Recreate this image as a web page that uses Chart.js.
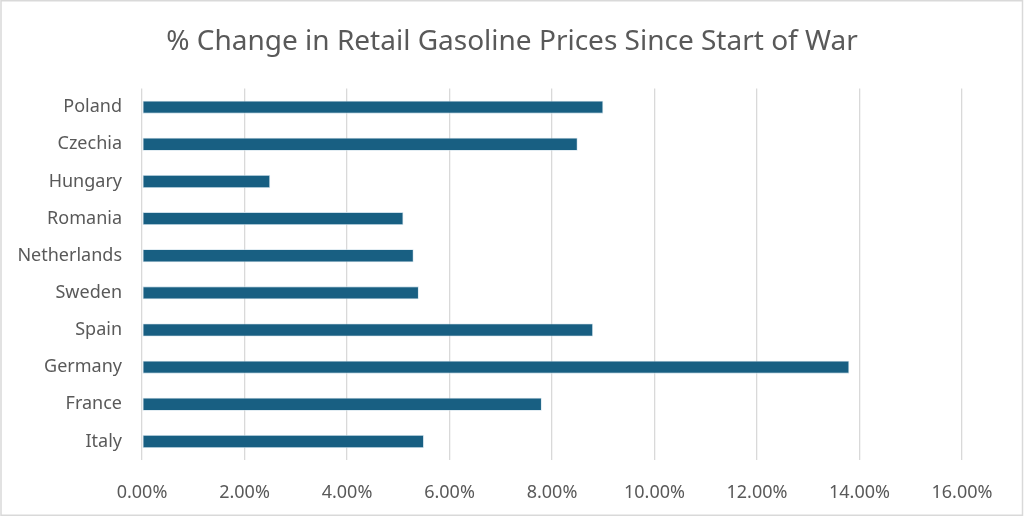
<!DOCTYPE html>
<html>
<head>
<meta charset="utf-8">
<script src="https://cdn.jsdelivr.net/npm/chart.js@4/dist/chart.umd.min.js"></script>
<style>
  html, body { margin: 0; padding: 0; background: #fff; }
  #wrap { width: 1024px; height: 517px; }
</style>
</head>
<body>
<div id="wrap"><canvas id="gasChart" width="1024" height="517"></canvas></div>
<script>
// valores (% de variação)
const countries = ['Poland', 'Czechia', 'Hungary', 'Romania', 'Netherlands', 'Sweden', 'Spain', 'Germany', 'France', 'Italy'];
const pctChange = [9.0, 8.5, 2.5, 5.1, 5.3, 5.4, 8.8, 13.8, 7.8, 5.5];
const xTicks = [0, 2, 4, 6, 8, 10, 12, 14, 16];

const textGray = '#595959';
const fontFamily = '"Noto Sans", "Open Sans", sans-serif';

// fundo branco e moldura cinza
const frame = {
    id: 'frame',
    beforeDraw: function(chart) {
        const c = chart.ctx;
        c.save();
        c.fillStyle = '#fff';
        c.fillRect(0, 0, chart.width, chart.height);
        c.strokeStyle = '#d9d9d9';
        c.lineWidth = 1.5;
        c.strokeRect(1, 0.75, chart.width - 2.5, chart.height - 2.5);
        c.restore();
    }
};

const ctx = document.getElementById('gasChart').getContext('2d');
const gasChart = new Chart(ctx, {
    type: 'bar',
    data: {
        labels: countries,
        datasets: [{
            label: '% Change',
            data: pctChange,
            backgroundColor: '#185f82',
            borderColor: 'rgba(200, 220, 232, 0.9)',
            borderWidth: 0.8,
            borderSkipped: false,
            categoryPercentage: 1,
            barPercentage: 0.35
        }]
    },
    options: {
        indexAxis: 'y',
        responsive: false,
        animation: false,
        layout: { padding: 0 },
        plugins: {
            legend: { display: false },
            tooltip: { enabled: false },
            title: {
                display: true,
                text: '% Change in Retail Gasoline Prices Since Start of War',
                color: textGray,
                font: { family: fontFamily, size: 28, weight: 'normal' },
                padding: { top: 25, bottom: 30 }
            }
        },
        scales: {
            x: {
                min: 0,
                max: 16,
                afterBuildTicks: function(axis) {
                    axis.ticks = xTicks.map(function(v) { return { value: v }; });
                },
                afterFit: function(axis) {
                    axis.height = 57;
                    axis.paddingRight = 62; // espaço à direita do 16%
                },
                grid: { color: '#d9d9d9', lineWidth: 1.3, drawTicks: false },
                border: { display: false },
                ticks: {
                    color: textGray,
                    padding: 22,
                    maxRotation: 0,
                    font: { family: fontFamily, size: 18 },
                    callback: function(value) {
                        return value.toFixed(2) + '%';
                    }
                }
            },
            y: {
                afterFit: function(axis) { axis.width = 142; },
                grid: { display: false, drawTicks: false },
                border: { display: false },
                ticks: {
                    color: textGray,
                    padding: 20,
                    font: { family: fontFamily, size: 18 }
                }
            }
        }
    },
    plugins: [frame]
});
</script>
</body>
</html>
